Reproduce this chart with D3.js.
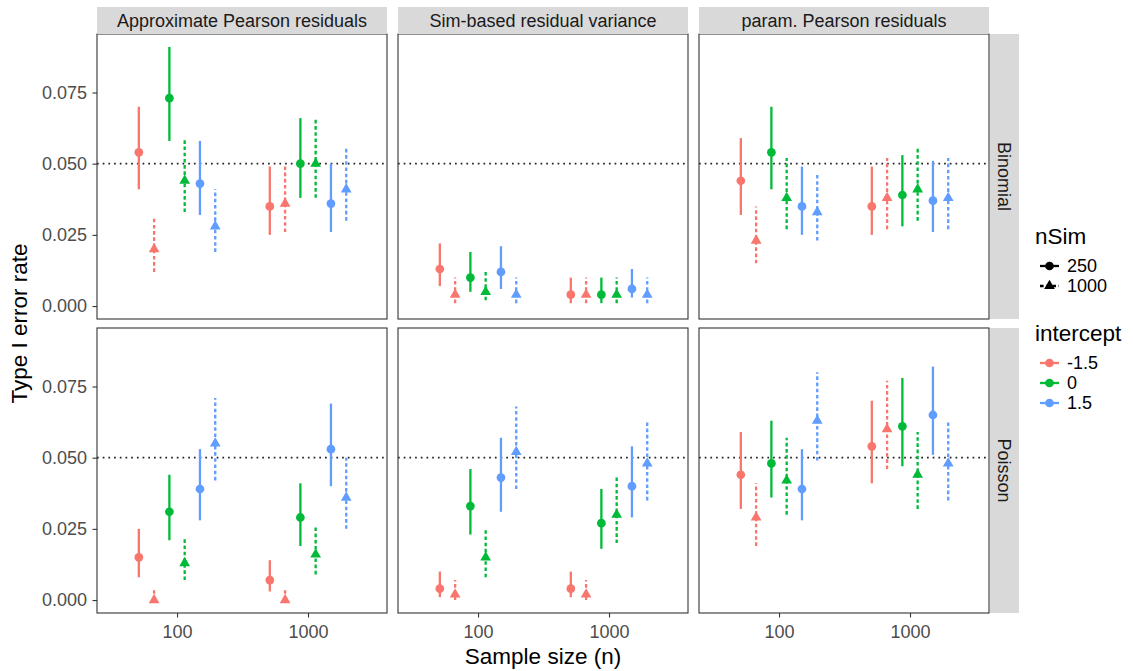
<!DOCTYPE html>
<html>
<head>
<meta charset="utf-8">
<script src="https://cdn.jsdelivr.net/npm/d3@7"></script>
<style>
  body { margin: 0; background: #fff; }
  text { font-family: "Liberation Sans", Arial, Helvetica, sans-serif; }
</style>
</head>
<body>
<svg id="chart" width="1133" height="671"></svg>
<script>
// facets and groups
var methods = ["Approximate Pearson residuals", "Sim-based residual variance", "param. Pearson residuals"];
var families = ["Binomial", "Poisson"];
var sampleSizes = [100, 1000];
var intercepts = ["-1.5", "0", "1.5"];
var nSims = ["250", "1000"];
var yTicks = [0, 0.025, 0.05, 0.075];
var xTicks = [100, 1000];

// values per panel, order: n (100, 1000) > intercept (-1.5, 0, 1.5) > nSim (250, 1000)
var binApproxRate = [0.054, 0.020, 0.073, 0.044, 0.043, 0.028, 0.035, 0.036, 0.050, 0.050, 0.036, 0.041];
var binApproxLo   = [0.041, 0.012, 0.058, 0.033, 0.032, 0.019, 0.025, 0.026, 0.038, 0.038, 0.026, 0.030];
var binApproxHi   = [0.070, 0.031, 0.091, 0.059, 0.058, 0.041, 0.049, 0.050, 0.066, 0.066, 0.050, 0.056];

var binSimRate = [0.013, 0.004, 0.010, 0.005, 0.012, 0.004, 0.004, 0.004, 0.004, 0.004, 0.006, 0.004];
var binSimLo   = [0.007, 0.001, 0.005, 0.002, 0.006, 0.001, 0.001, 0.001, 0.001, 0.001, 0.003, 0.001];
var binSimHi   = [0.022, 0.010, 0.019, 0.012, 0.021, 0.010, 0.010, 0.010, 0.010, 0.010, 0.013, 0.010];

var binParamRate = [0.044, 0.023, 0.054, 0.038, 0.035, 0.033, 0.035, 0.038, 0.039, 0.041, 0.037, 0.038];
var binParamLo   = [0.032, 0.015, 0.041, 0.027, 0.025, 0.023, 0.025, 0.027, 0.028, 0.030, 0.026, 0.027];
var binParamHi   = [0.059, 0.035, 0.070, 0.052, 0.049, 0.047, 0.049, 0.052, 0.053, 0.056, 0.051, 0.052];

var poiApproxRate = [0.015, 0.000, 0.031, 0.013, 0.039, 0.055, 0.007, 0.000, 0.029, 0.016, 0.053, 0.036];
var poiApproxLo   = [0.008, 0.000, 0.021, 0.007, 0.028, 0.042, 0.003, 0.000, 0.019, 0.009, 0.040, 0.025];
var poiApproxHi   = [0.025, 0.004, 0.044, 0.022, 0.053, 0.071, 0.014, 0.004, 0.041, 0.026, 0.069, 0.050];

var poiSimRate = [0.004, 0.002, 0.033, 0.015, 0.043, 0.052, 0.004, 0.002, 0.027, 0.030, 0.040, 0.048];
var poiSimLo   = [0.001, 0.000, 0.023, 0.008, 0.031, 0.039, 0.001, 0.000, 0.018, 0.020, 0.029, 0.035];
var poiSimHi   = [0.010, 0.007, 0.046, 0.025, 0.057, 0.068, 0.010, 0.007, 0.039, 0.043, 0.054, 0.063];

var poiParamRate = [0.044, 0.029, 0.048, 0.042, 0.039, 0.063, 0.054, 0.060, 0.061, 0.044, 0.065, 0.048];
var poiParamLo   = [0.032, 0.019, 0.036, 0.030, 0.028, 0.049, 0.041, 0.046, 0.047, 0.032, 0.051, 0.035];
var poiParamHi   = [0.059, 0.041, 0.063, 0.057, 0.053, 0.080, 0.070, 0.077, 0.078, 0.059, 0.082, 0.063];

var panelValues = [
  [[binApproxRate, binApproxLo, binApproxHi], [binSimRate, binSimLo, binSimHi], [binParamRate, binParamLo, binParamHi]],
  [[poiApproxRate, poiApproxLo, poiApproxHi], [poiSimRate, poiSimLo, poiSimHi], [poiParamRate, poiParamLo, poiParamHi]]
];

var colors = ["#F8766D", "#00BA38", "#619CFF"];

// layout
var plotLeft = 97, plotTop = 34,
    panelW = 290, panelH = 285,
    gapX = 11, gapY = 9,
    stripH = 27, stripW = 29,
    dodge = 0.7; // in log10 units

var svg = d3.select("#chart");

// flatten data
var rows = [];
families.forEach(function (fam, r) {
  methods.forEach(function (m, c) {
    var vals = panelValues[r][c];
    var k = 0;
    sampleSizes.forEach(function (n) {
      intercepts.forEach(function (ic, i) {
        nSims.forEach(function (ns, s) {
          rows.push({ family: fam, method: m, row: r, col: c, n: n, intercept: i, nSim: s,
                      group: i * 2 + s, rate: vals[0][k], lo: vals[1][k], hi: vals[2][k] });
          k++;
        });
      });
    });
  });
});

var yMin = d3.min(rows, function (d) { return d.lo; }),
    yMax = d3.max(rows, function (d) { return d.hi; }),
    yPad = (yMax - yMin) * 0.05;

var y = d3.scaleLinear().domain([yMin - yPad, yMax + yPad]).range([panelH, 0]);
var x = d3.scaleLog().domain([Math.pow(10, 1.389), Math.pow(10, 3.603)]).range([0, panelW]);

function xPos(d) {
  var off = (d.group - 2.5) * dodge / 6;
  return x(Math.pow(10, Math.log10(d.n) + off));
}

var circle = d3.symbol().type(d3.symbolCircle).size(60);
var triangle = d3.symbol().type(d3.symbolTriangle).size(50);

families.forEach(function (fam, r) {
  methods.forEach(function (m, c) {
    var px = plotLeft + c * (panelW + gapX),
        py = plotTop + r * (panelH + gapY);
    var g = svg.append("g").attr("transform", "translate(" + px + "," + py + ")");

    g.append("rect").attr("width", panelW).attr("height", panelH).attr("fill", "#fff");

    // reference line at 0.05
    g.append("line")
      .attr("x1", 0).attr("x2", panelW)
      .attr("y1", y(0.05)).attr("y2", y(0.05))
      .attr("stroke", "#222").attr("stroke-width", 1.7)
      .attr("stroke-dasharray", "1.7,4");

    var pts = rows.filter(function (d) { return d.row == r && d.col == c; });

    g.selectAll(".range").data(pts).enter().append("line")
      .attr("x1", xPos).attr("x2", xPos)
      .attr("y1", function (d) { return y(d.lo); })
      .attr("y2", function (d) { return y(d.hi); })
      .attr("stroke", function (d) { return colors[d.intercept]; })
      .attr("stroke-width", 2.3)
      .attr("stroke-dasharray", function (d) { return d.nSim == 1 ? "3.6,2.6" : null; });

    g.selectAll(".pt").data(pts).enter().append("path")
      .attr("d", function (d) { return d.nSim == 0 ? circle() : triangle(); })
      .attr("transform", function (d) { return "translate(" + xPos(d) + "," + y(d.rate) + ")"; })
      .attr("fill", function (d) { return colors[d.intercept]; });

    g.append("rect").attr("width", panelW).attr("height", panelH)
      .attr("fill", "none").attr("stroke", "#333").attr("stroke-width", 1.1);

    // y axis on first column
    if (c == 0) {
      var ya = g.append("g").call(d3.axisLeft(y).tickValues(yTicks).tickFormat(d3.format(".3f")).tickSize(4.5).tickPadding(5.5));
      ya.select(".domain").remove();
      ya.selectAll("line").attr("stroke", "#333").attr("stroke-width", 1.1);
      ya.selectAll("text").attr("fill", "#4d4d4d").style("font-size", "18px");
    }
    // x axis on bottom row
    if (r == families.length - 1) {
      var xa = g.append("g").attr("transform", "translate(0," + panelH + ")")
        .call(d3.axisBottom(x).tickValues(xTicks).tickFormat(d3.format("d")).tickSize(4.5).tickPadding(8));
      xa.select(".domain").remove();
      xa.selectAll("line").attr("stroke", "#333").attr("stroke-width", 1.1);
      xa.selectAll("text").attr("fill", "#4d4d4d").style("font-size", "18px");
    }

    // column strips
    if (r == 0) {
      svg.append("rect").attr("x", px).attr("y", plotTop - stripH)
        .attr("width", panelW).attr("height", stripH).attr("fill", "#d9d9d9");
      svg.append("text").attr("x", px + panelW / 2).attr("y", plotTop - stripH / 2)
        .attr("text-anchor", "middle").attr("dy", "0.35em")
        .attr("fill", "#1a1a1a").style("font-size", "18px").text(m);
    }
    // row strips
    if (c == methods.length - 1) {
      var sx = px + panelW + 1;
      svg.append("rect").attr("x", sx).attr("y", py)
        .attr("width", stripW).attr("height", panelH).attr("fill", "#d9d9d9");
      svg.append("text")
        .attr("transform", "translate(" + (sx + stripW / 2) + "," + (py + panelH / 2) + ") rotate(90)")
        .attr("text-anchor", "middle").attr("dy", "0.35em")
        .attr("fill", "#1a1a1a").style("font-size", "18px").text(fam);
    }
  });
});

// axis titles
var plotW = methods.length * panelW + (methods.length - 1) * gapX,
    plotH = families.length * panelH + (families.length - 1) * gapY;

svg.append("text").attr("x", plotLeft + plotW / 2).attr("y", 664)
  .attr("text-anchor", "middle").style("font-size", "22.5px").attr("fill", "#000")
  .text("Sample size (n)");

svg.append("text")
  .attr("transform", "translate(27," + (plotTop + plotH / 2) + ") rotate(-90)")
  .attr("text-anchor", "middle").style("font-size", "22.5px").attr("fill", "#000")
  .text("Type I error rate");

// legends
var lgX = 1035;
var lg1 = svg.append("g");
lg1.append("text").attr("x", lgX).attr("y", 236).attr("dy", "0.35em")
  .style("font-size", "22.5px").text("nSim");
nSims.forEach(function (ns, s) {
  var ly = 266 + s * 20;
  lg1.append("line").attr("x1", lgX + 5).attr("x2", lgX + 24).attr("y1", ly).attr("y2", ly)
    .attr("stroke", "#000").attr("stroke-width", 2.3)
    .attr("stroke-dasharray", s == 1 ? "3.6,2.6" : null);
  lg1.append("path").attr("d", s == 0 ? circle() : triangle())
    .attr("transform", "translate(" + (lgX + 14.5) + "," + ly + ")").attr("fill", "#000");
  lg1.append("text").attr("x", lgX + 32).attr("y", ly).attr("dy", "0.35em")
    .style("font-size", "18px").attr("fill", "#000").text(ns);
});

var lg2 = svg.append("g");
lg2.append("text").attr("x", lgX).attr("y", 333).attr("dy", "0.35em")
  .style("font-size", "22.5px").text("intercept");
intercepts.forEach(function (ic, i) {
  var ly = 363 + i * 20;
  lg2.append("line").attr("x1", lgX + 5).attr("x2", lgX + 24).attr("y1", ly).attr("y2", ly)
    .attr("stroke", colors[i]).attr("stroke-width", 2.3);
  lg2.append("path").attr("d", circle())
    .attr("transform", "translate(" + (lgX + 14.5) + "," + ly + ")").attr("fill", colors[i]);
  lg2.append("text").attr("x", lgX + 32).attr("y", ly).attr("dy", "0.35em")
    .style("font-size", "18px").attr("fill", "#000").text(ic);
});
</script>
</body>
</html>
